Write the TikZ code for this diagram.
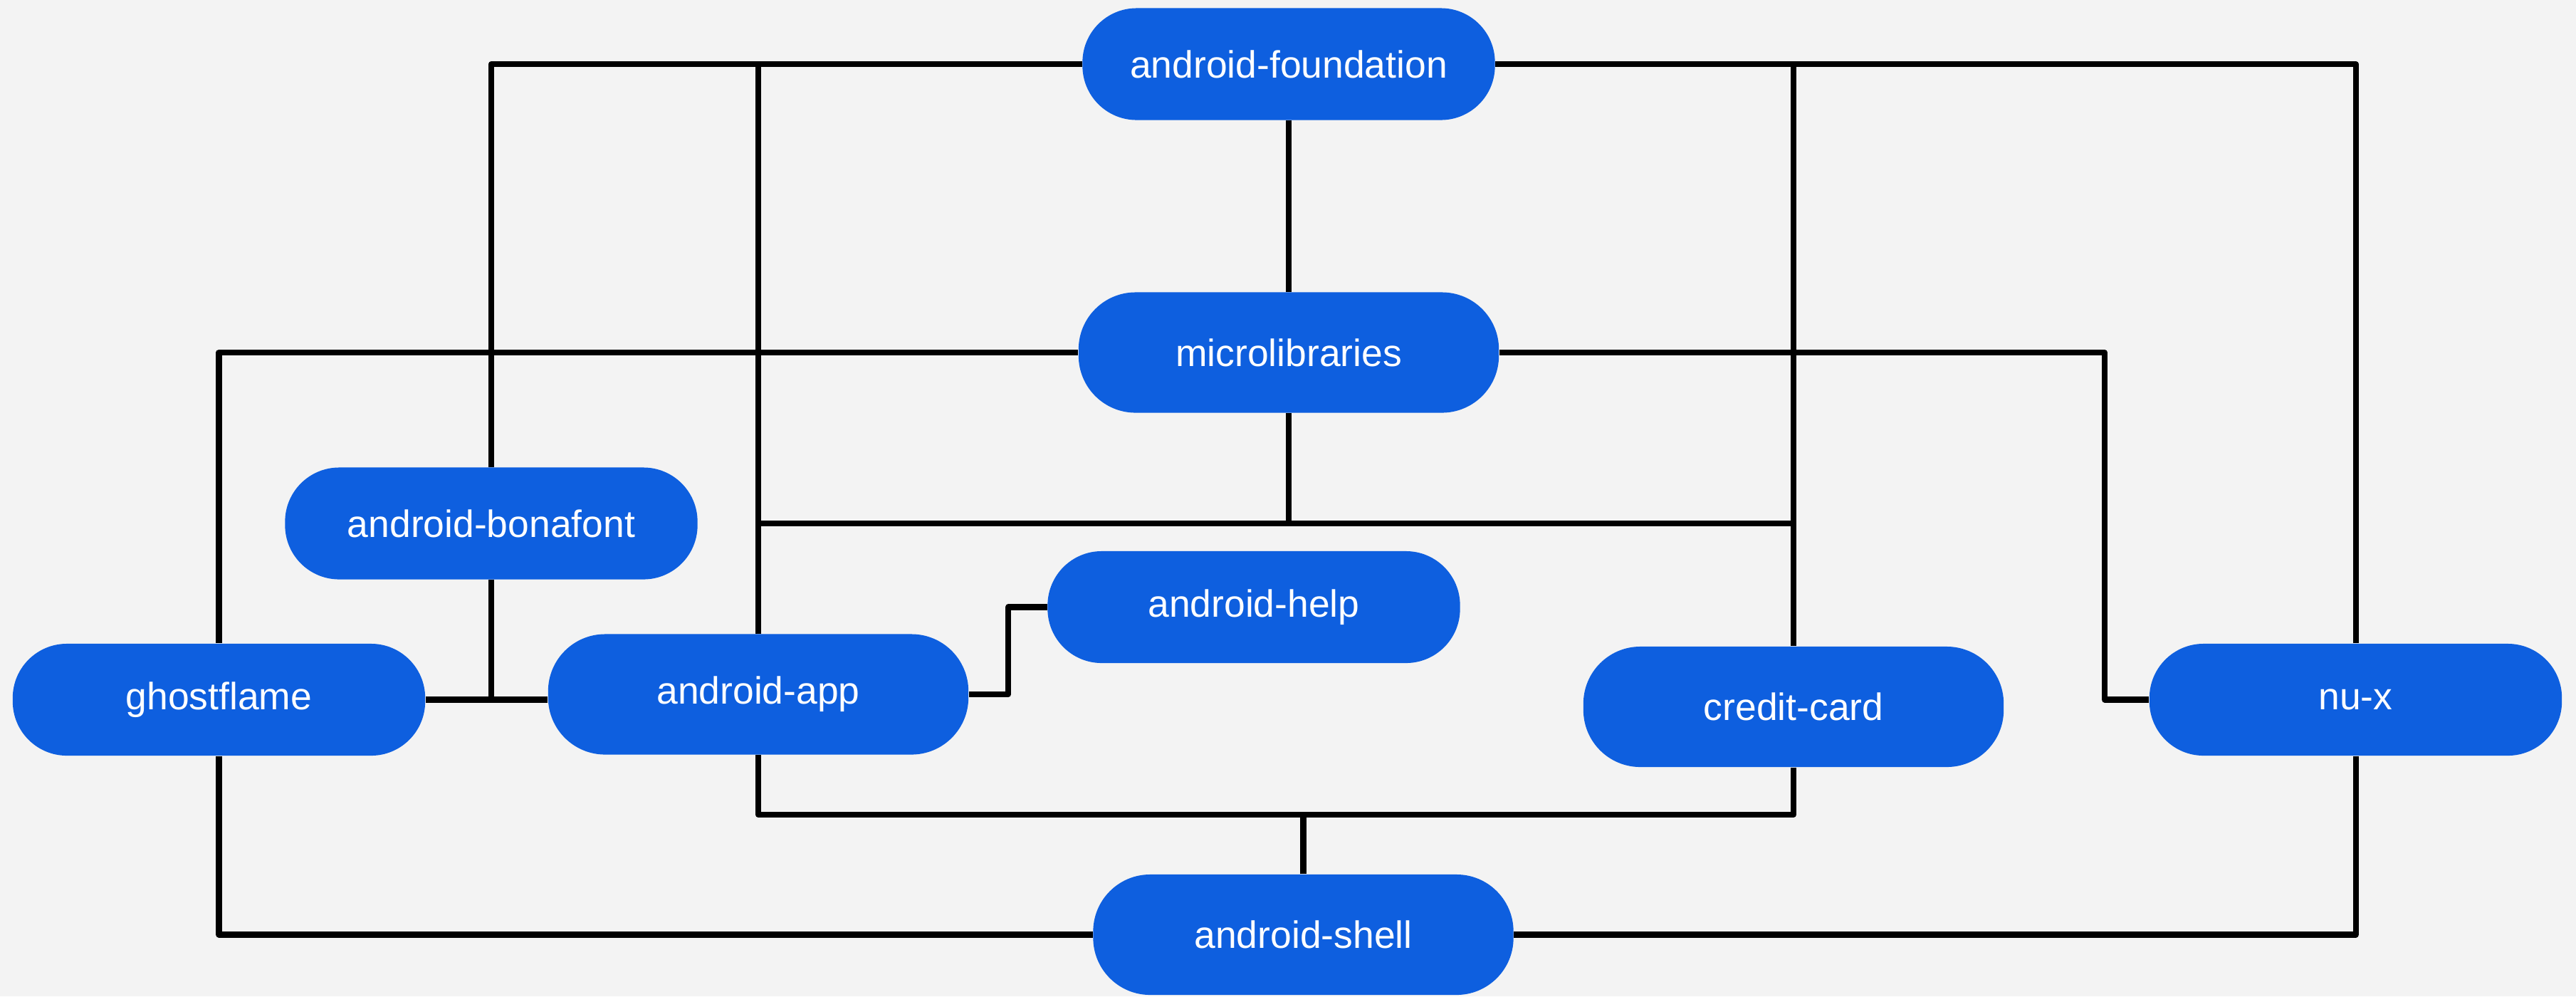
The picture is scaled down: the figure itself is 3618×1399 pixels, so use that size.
\documentclass[tikz,border=0pt]{standalone}
\usepackage{fontspec}
\setmainfont{Liberation Sans}
\definecolor{bg}{HTML}{F3F3F3}
\definecolor{pillblue}{HTML}{0E5FDF}
\begin{document}
\begin{tikzpicture}[x=0.01cm,y=-0.01cm,
  pill/.style={fill=pillblue,draw=none,text=white,inner sep=0pt,
    font=\fontsize{15.2pt}{18pt}\selectfont},
  smallpill/.style={pill,minimum width=5.79cm,minimum height=1.57cm,rounded corners=0.76cm},
  bigpill/.style={pill,minimum width=5.9cm,minimum height=1.69cm,rounded corners=0.8cm},
  wire/.style={draw=black,line width=2.3pt,line join=round}]
\fill[bg] (0,0) rectangle (3618,1399);
\useasboundingbox (0,0) rectangle (3618,1399);

\coordinate (busA) at (0,735);
\coordinate (busB) at (0,1144);
\coordinate (mr) at (2956,0);
\coordinate (hj) at (1416,0);

\node[smallpill] (found) at (1810,90) {android-foundation};
\node[bigpill] (micro) at (1810,495) {microlibraries};
\node[smallpill] (bona) at (690,735) {android-bonafont};
\node[smallpill] (gf) at (307.5,982.5) {ghostflame};
\node[bigpill] (app) at (1065,975) {android-app};
\node[smallpill] (help) at (1761,852.5) {android-help};
\node[bigpill] (cc) at (2519,992.5) {credit-card};
\node[smallpill] (nux) at (3308.5,982.5) {nu-x};
\node[bigpill] (shell) at (1830.5,1312.5) {android-shell};

\begin{scope}[wire]
\draw (found.west) -| (bona.north);
\draw (bona.south) |- (app.west |- gf.east);
\draw (gf.east) -- (app.west |- gf.east);
\draw (found.west) -| (app.north);
\draw (found.south) -- (micro.north);
\draw (found.east) -| (nux.north);
\draw (found.east) -| (cc.north);
\draw (micro.west) -| (gf.north);
\draw (micro.east) -- (micro.east -| mr) |- (nux.west);
\draw (micro.south) -- (micro.south |- busA);
\draw (app.north |- busA) -- (cc.north |- busA);
\draw (app.east) -- (app.east -| hj) |- (help.west);
\draw (app.south) |- (cc.south |- busB) -- (cc.south);
\draw (shell.north) -- (shell.north |- busB);
\draw (gf.south) |- (shell.west);
\draw (nux.south) |- (shell.east);
\end{scope}
\end{tikzpicture}
\end{document}
